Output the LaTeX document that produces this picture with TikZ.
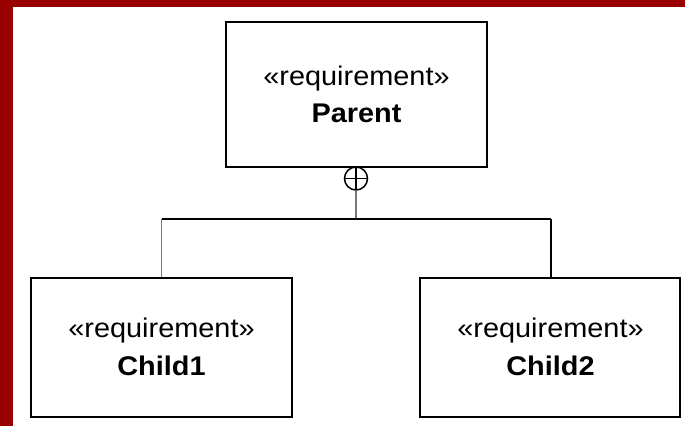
\documentclass[tikz,border=0pt]{standalone}
\usepackage{fontspec}
\setmainfont{Liberation Sans}[FakeStretch=1.07]
\definecolor{framered}{RGB}{153,0,0}
\definecolor{linkgray}{RGB}{120,120,120}
\begin{document}
\begin{tikzpicture}[x=1pt,y=-1pt,
  reqbox/.style={draw=black,line width=2pt,rectangle,inner sep=0pt,
                 minimum width=261pt,minimum height=#1},
  reqtext/.style={anchor=base,inner sep=0pt,
                  font=\fontsize{27}{32}\selectfont},
  reqname/.style={reqtext,font=\fontsize{27}{32}\selectfont\bfseries},
  link/.style={line width=1.6pt,draw=black},
  softlink/.style={line width=1.6pt,draw=linkgray},
  containment/.style={circle,draw=black,line width=1.5pt,inner sep=0pt,
                      minimum size=23pt,fill=white,
                      path picture={
                        \draw[line width=1.5pt]
                          (path picture bounding box.north) -- (path picture bounding box.south)
                          (path picture bounding box.west) -- (path picture bounding box.east);}}
]
  \useasboundingbox (0,0) rectangle (685,426);
  \fill[white] (0,0) rectangle (685,426);
  % slide frame
  \fill[framered] (0,0) rectangle (13,426);
  \fill[framered] (0,0) rectangle (685,7);

  % requirement boxes
  \node[reqbox=145pt] (p)  at (356.5,94.5) {};
  \node[reqbox=139pt] (c1) at (161.5,347.5) {};
  \node[reqbox=139pt,minimum width=260pt] (c2) at (550,347) {};

  % labels
  \node[reqtext] (p-st)    at (356.5,85)  {«requirement»};
  \node[reqname] (p-name)  at (356.5,122) {Parent};
  \node[reqtext] (c1-st)   at (161.5,337) {«requirement»};
  \node[reqname] (c1-name) at (161.5,375) {Child1};
  \node[reqtext] (c2-st)   at (550.5,337) {«requirement»};
  \node[reqname] (c2-name) at (550.5,375) {Child2};

  % containment relationship
  \node[containment] (cm) at (356,178.5) {};
  \coordinate (j)  at (356,219);
  \coordinate (j1) at (161.5,219);
  \coordinate (j2) at (551,219);
  \draw[softlink] (cm.south) -- (j);
  \draw[link] (j1) -- (j2);
  \draw[softlink] (j1) -- (j1 |- c1.north);
  \draw[link] (j2) -- (j2 |- c2.north);
\end{tikzpicture}
\end{document}
